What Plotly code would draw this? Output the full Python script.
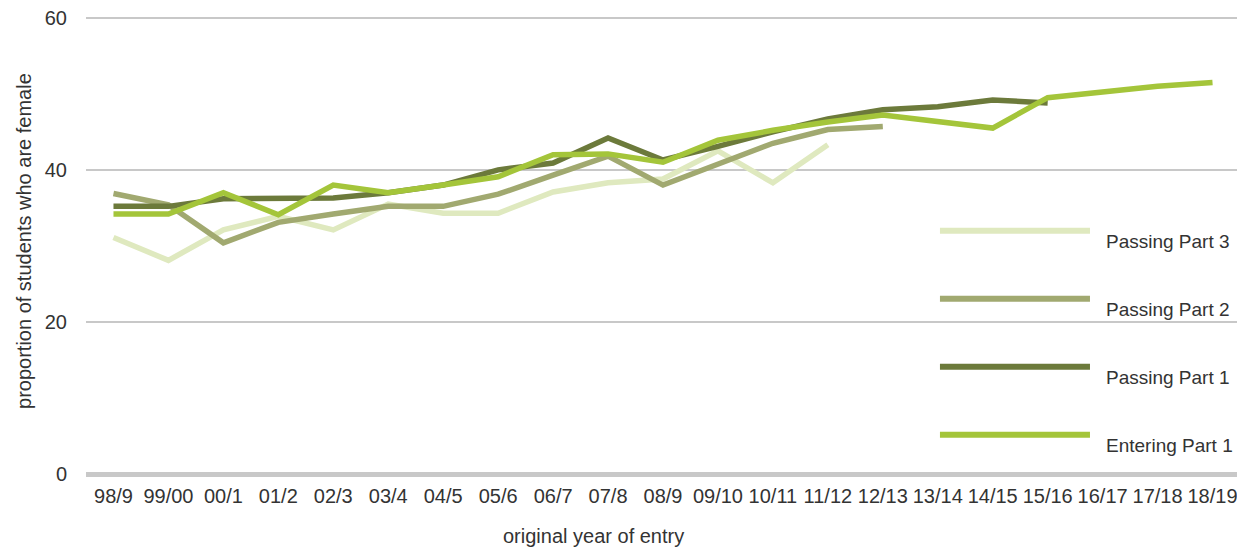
import plotly.graph_objects as go

years = ["98/9", "99/00", "00/1", "01/2", "02/3", "03/4", "04/5", "05/6", "06/7", "07/8",
         "08/9", "09/10", "10/11", "11/12", "12/13", "13/14", "14/15", "15/16", "16/17",
         "17/18", "18/19"]

passing_part3 = [31.1, 28.1, 32.1, 33.9, 32.1, 35.5, 34.3, 34.3, 37.1, 38.3,
                 38.8, 42.5, 38.3, 43.3, None, None, None, None, None, None, None]
passing_part2 = [36.9, 35.4, 30.4, 33.1, 34.2, 35.2, 35.2, 36.8, 39.3, 41.8,
                 38.0, 40.7, 43.5, 45.3, 45.7, None, None, None, None, None, None]
passing_part1 = [35.2, 35.2, 36.2, 36.2, 36.3, 37.0, 38.0, 40.0, 40.9, 44.2,
                 41.3, 43.1, 45.0, 46.7, 47.9, 48.3, 49.2, 48.8, None, None, None]
entering_part1 = [34.2, 34.2, 37.0, 34.1, 38.0, 37.0, 38.0, 39.1, 42.0, 42.1,
                  41.0, 43.9, 45.2, 46.3, 47.2, 46.4, 45.5, 49.5, 50.3, 51.0, 51.5]

series = [
    ("Passing Part 3", passing_part3, "#dfe9bf"),
    ("Passing Part 2", passing_part2, "#a1a970"),
    ("Passing Part 1", passing_part1, "#6c7a3b"),
    ("Entering Part 1", entering_part1, "#a4c53a"),
]

y_ticks = [0, 20, 40, 60]

fig = go.Figure()
for name, vals, color in series:
    fig.add_trace(go.Scatter(x=years, y=vals, name=name, mode="lines",
                             line=dict(color=color, width=5.5), connectgaps=False,
                             showlegend=False))

# plot area: 460 px tall for 60.5 units -> 0 at y=474, 60 at y=18
def py(v):
    return v / 60.5

# custom legend (long line samples with labels to the right)
leg_vals = [32.0, 23.05, 14.1, 5.15]
for (name, vals, color), lv in zip(series, leg_vals):
    fig.add_shape(type="line", xref="paper", yref="paper", x0=0.740, x1=0.870,
                  y0=py(lv), y1=py(lv), line=dict(color=color, width=6))
    fig.add_annotation(xref="paper", yref="paper", x=0.882, y=py(lv - 1.45), text=name,
                       showarrow=False, xanchor="left", yanchor="middle",
                       font=dict(size=19, color="#333333"))

fig.add_annotation(xref="paper", yref="paper", x=-0.0537, y=py(30.65),
                   text="proportion of students who are female",
                   textangle=-90, showarrow=False, xanchor="center", yanchor="middle",
                   font=dict(size=20, color="#333333"))
fig.add_annotation(xref="paper", yref="paper", x=0.4402, y=py(-6.5), text="original year of entry",
                   showarrow=False, xanchor="center", yanchor="top",
                   font=dict(size=20, color="#333333"))

fig.update_layout(
    width=1237, height=541,
    margin=dict(l=78, r=5, t=6, b=75, autoexpand=False),
    paper_bgcolor="white", plot_bgcolor="white",
    font=dict(family="Liberation Sans, Arial, sans-serif", color="#333333"),
    xaxis=dict(type="category", range=[-0.5, 20.5], showgrid=False, showline=False,
               ticks="", tickfont=dict(size=20), ticklabelstandoff=8, automargin=False),
    yaxis=dict(range=[0, 60.5], tickvals=y_ticks, showgrid=True, gridcolor="#c8c8c8", gridwidth=1.5,
               zeroline=True, zerolinecolor="#c8c8c8", zerolinewidth=5, showline=False,
               ticks="", tickfont=dict(size=20), ticklabelstandoff=18,
               ticklabeloverflow="allow", automargin=False),
)

fig.write_html("out.html")
